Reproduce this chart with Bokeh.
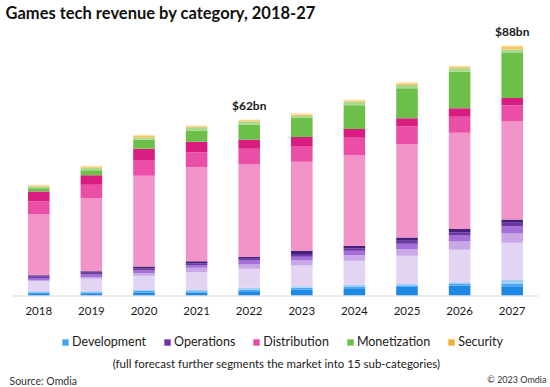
from bokeh.plotting import figure
from bokeh.layouts import column
from bokeh.models import (ColumnDataSource, FactorRange, Range1d, Legend, LegendItem, Label,
                          BoxAnnotation)
from bokeh.core.properties import value
from bokeh.embed import file_html
from bokeh.resources import INLINE

years = ["2018", "2019", "2020", "2021", "2022", "2023", "2024", "2025", "2026", "2027"]

# sub-category values, $bn (bottom to top of each stack)
dev_dark = [0.8, 0.8, 1.1, 1.05, 1.5, 2.1, 2.6, 3.0, 3.4, 3.0]
dev_mid = [0.35, 0.35, 0.5, 0.45, 0.55, 0.6, 0.55, 0.5, 0.65, 1.25]
dev_light = [0.35, 0.35, 0.5, 0.6, 0.65, 0.6, 0.6, 0.55, 0.65, 1.4]
ops_light = [3.5, 4.4, 4.9, 6.1, 6.7, 7.3, 8.45, 9.95, 11.4, 12.9]
ops_lav = [0.5, 0.55, 0.95, 1.55, 1.5, 1.75, 2.1, 2.35, 2.9, 3.3]
ops_purple = [0.7, 0.95, 0.9, 0.9, 1.4, 1.3, 1.5, 1.85, 2.1, 2.55]
ops_dark = [0.5, 0.6, 0.75, 0.7, 0.65, 1.0, 0.85, 1.1, 1.2, 1.2]
ops_deep = [0.4, 0.55, 0.65, 0.7, 0.65, 1.0, 0.8, 1.1, 1.15, 1.15]
dist_light = [21.6, 25.8, 31.9, 33.1, 32.55, 31.5, 32.0, 33.0, 33.9, 34.6]
dist_pink = [4.4, 4.7, 5.6, 5.3, 5.5, 5.5, 6.1, 6.1, 5.65, 5.7]
dist_mag = [3.5, 3.3, 3.9, 3.7, 3.2, 3.2, 3.05, 2.95, 2.95, 2.55]
mon_green = [1.2, 1.8, 3.3, 4.0, 5.3, 6.8, 8.45, 10.55, 12.9, 15.85]
mon_light = [0.6, 0.85, 0.7, 1.15, 1.15, 0.55, 1.15, 1.15, 1.2, 1.15]
sec_orange = [0.35, 0.4, 0.55, 0.35, 0.4, 0.55, 0.5, 0.55, 0.5, 0.9]
sec_pale = [0.25, 0.3, 0.4, 0.25, 0.3, 0.4, 0.35, 0.4, 0.4, 0.6]

series_names = ["dev_dark", "dev_mid", "dev_light", "ops_light", "ops_lav", "ops_purple",
                "ops_dark", "ops_deep", "dist_light", "dist_pink", "dist_mag",
                "mon_green", "mon_light", "sec_orange", "sec_pale"]
series_values = [dev_dark, dev_mid, dev_light, ops_light, ops_lav, ops_purple,
                 ops_dark, ops_deep, dist_light, dist_pink, dist_mag,
                 mon_green, mon_light, sec_orange, sec_pale]
series_colors = ["#1E88E5", "#4CA6F2", "#9CCFF8", "#E3D4F3", "#C9A8E8", "#A56ED8",
                 "#6B36A6", "#44207A", "#F294C8", "#EA4EA6", "#D81C80",
                 "#6CC04A", "#A9D98D", "#F6C25F", "#FCE1A8"]

legend_labels = ["Development", "Operations", "Distribution", "Monetization", "Security"]
legend_colors = ["#41A6F0", "#7132A3", "#E84BA5", "#6CC24A", "#F2B134"]

callout_years = ["2022", "2027"]
callout_texts = ["$62bn", "$88bn"]

FONT = "Lato"
TXT = "#1a1a1a"

data = {"year": years}
for n, v in zip(series_names, series_values):
    data[n] = v
source = ColumnDataSource(data)

totals = [sum(s[i] for s in series_values) for i in range(len(years))]

# ---- main chart ----
p = figure(x_range=FactorRange(*years, range_padding=0.228, range_padding_units="absolute"),
           y_range=Range1d(-0.7, 103.9),
           width=550, height=324, output_backend="svg", toolbar_location=None,
           y_axis_location=None, min_border_left=0, min_border_right=0,
           min_border_top=0, min_border_bottom=27)
p.outline_line_color = None
p.xgrid.visible = False
p.ygrid.visible = False
p.background_fill_color = "white"
p.border_fill_color = "white"

p.vbar_stack(series_names, x="year", width=0.41, color=series_colors, line_color=None,
             source=source)

# baseline
p.add_layout(BoxAnnotation(left=12, right=538, left_units="screen", right_units="screen",
                           top=0, bottom=-0.35, fill_color="#D9D9D9", fill_alpha=1,
                           line_color=None))

cy = [totals[years.index(y)] + 5.0 for y in callout_years]
csrc = ColumnDataSource({"x": callout_years, "y": cy, "t": callout_texts})
p.text(x="x", y="y", text="t", source=csrc, text_align="center", text_baseline="middle",
       text_font=value(FONT), text_font_size="12px", text_font_style="bold",
       text_color=TXT)

ax = p.xaxis[0]
ax.axis_line_color = None
ax.major_tick_line_color = None
ax.minor_tick_line_color = None
ax.major_tick_out = 0
ax.major_tick_in = 0
ax.major_label_standoff = 9
ax.major_label_text_font = FONT
ax.major_label_text_font_size = "11.5px"
ax.major_label_text_color = TXT

p.add_layout(Label(x=5, y=285, x_units="screen", y_units="screen",
                   text="Games tech revenue by category, 2018-27", text_font=FONT,
                   text_font_size="16.5px", text_font_style="bold", text_color="#111111",
                   text_baseline="middle", text_align="left"))

# ---- bottom strip: legend and notes ----
q = figure(x_range=Range1d(0, 1), y_range=Range1d(0, 1), width=550, height=63,
           output_backend="svg", toolbar_location=None, x_axis_location=None,
           y_axis_location=None, min_border_left=0, min_border_right=0,
           min_border_top=0, min_border_bottom=0)
q.outline_line_color = None
q.xgrid.visible = False
q.ygrid.visible = False

items = []
for lab, col in zip(legend_labels, legend_colors):
    r = q.vbar(x=[0], bottom=[0], top=[0], width=0.0, fill_color=col, line_color=None)
    items.append(LegendItem(label=lab, renderers=[r]))
legend = Legend(items=items, orientation="horizontal", location=(61, 38),
                glyph_width=8, glyph_height=8, label_standoff=3, spacing=17,
                padding=4, margin=0, border_line_color=None, background_fill_alpha=0,
                label_text_font=FONT, label_text_font_size="12.5px",
                label_text_color=TXT)
q.add_layout(legend, "center")

q.add_layout(Label(x=276, y=24, x_units="screen", y_units="screen",
                   text="(full forecast further segments the market into 15 sub-categories)",
                   text_font=FONT, text_font_size="11.5px", text_color=TXT,
                   text_baseline="middle", text_align="center"))
q.add_layout(Label(x=9, y=7, x_units="screen", y_units="screen",
                   text="Source: Omdia", text_font=FONT, text_font_size="10.5px",
                   text_color="#333333", text_baseline="middle", text_align="left"))
q.add_layout(Label(x=546, y=8, x_units="screen", y_units="screen",
                   text="\u00a9 2023 Omdia", text_font=FONT, text_font_size="9px",
                   text_color="#333333", text_baseline="middle", text_align="right"))

layout = column(p, q, spacing=0)
open("out.html", "w").write(file_html(layout, INLINE))
